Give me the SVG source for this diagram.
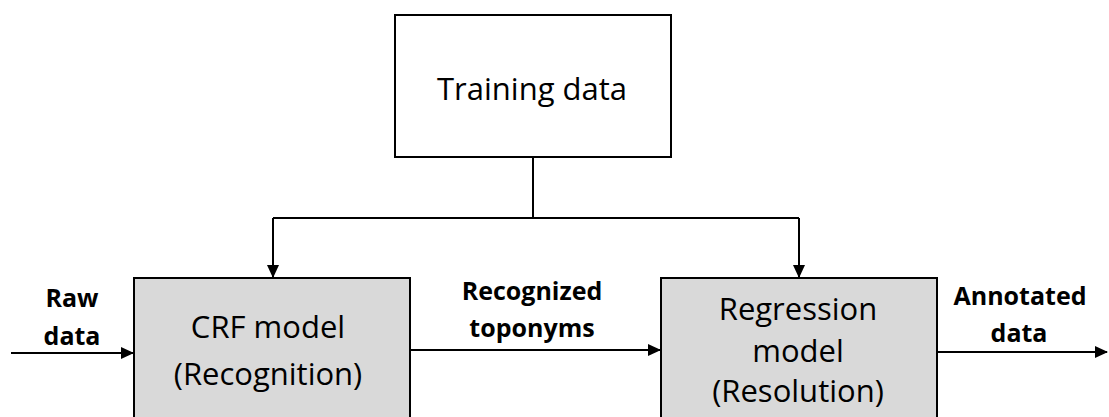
<svg xmlns="http://www.w3.org/2000/svg" width="1109" height="417" viewBox="0 0 1109 417">
<defs>
<marker id="arr" markerWidth="13" markerHeight="12" refX="12" refY="6" orient="auto" markerUnits="userSpaceOnUse">
<path d="M0,0 L13,6 L0,12 Z" fill="#000"/>
</marker>
<style>
.box{stroke:#000;stroke-width:2}
.t{font-family:"Open Sans","Liberation Sans",sans-serif;font-size:31px;fill:#000;text-anchor:middle}
.b{font-family:"Open Sans","Liberation Sans",sans-serif;font-size:25px;font-weight:bold;fill:#000;text-anchor:middle}
.c{stroke:#000;stroke-width:2;fill:none}
</style>
</defs>
<rect width="1109" height="417" fill="#fff"/>
<g id="connectors">
<path class="c" d="M533,157 V218"/>
<path class="c" d="M273,218 H799"/>
<path class="c" d="M273,218 V277" marker-end="url(#arr)"/>
<path class="c" d="M799,218 V277" marker-end="url(#arr)"/>
<path class="c" d="M11,353 H133" marker-end="url(#arr)"/>
<path class="c" d="M410,350 H660" marker-end="url(#arr)"/>
<path class="c" d="M937,352 H1107" marker-end="url(#arr)"/>
</g>
<g id="training">
<rect class="box" x="395" y="15" width="276" height="142" fill="#fff"/>
<text class="t" x="532" y="100">Training data</text>
</g>
<g id="crf">
<rect class="box" x="134" y="278" width="276" height="160" fill="#d9d9d9"/>
<text class="t" x="268" y="338">CRF model</text>
<text class="t" x="268" y="385">(Recognition)</text>
</g>
<g id="regression">
<rect class="box" x="661" y="278" width="276" height="160" fill="#d9d9d9"/>
<text class="t" x="798" y="320">Regression</text>
<text class="t" x="798" y="362">model</text>
<text class="t" x="798" y="402">(Resolution)</text>
</g>
<g id="labels">
<text class="b" x="72" y="307">Raw</text>
<text class="b" x="72" y="345">data</text>
<text class="b" x="532" y="300">Recognized</text>
<text class="b" x="532" y="337">toponyms</text>
<text class="b" x="1020" y="305">Annotated</text>
<text class="b" x="1019" y="342">data</text>
</g>
</svg>
